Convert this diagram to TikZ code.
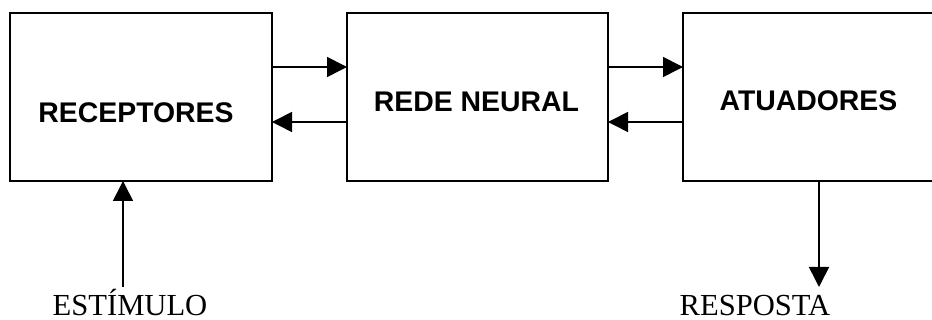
\documentclass[tikz,border=0pt]{standalone}
\usepackage{fontspec}
\setmainfont{Liberation Serif}
\setsansfont{Liberation Sans}
\usetikzlibrary{arrows.meta}
\usetikzlibrary{positioning}

\begin{document}
\begin{tikzpicture}[x=0.5pt, y=-0.5pt,
        caixa/.style={draw, line width=0.8pt, outer sep=0pt, inner sep=0pt, minimum height=84pt},
        rotulo/.style={anchor=base, font=\fontsize{14.2}{17}\selectfont\sffamily\bfseries},
        texto/.style={anchor=base, inner sep=0pt, text depth=0pt, font=\fontsize{15.3}{18}\selectfont},
        seta/.style={line width=0.8pt, -{Triangle[length=10pt, width=10pt]}}]
        \useasboundingbox (0, 0) rectangle (932, 320);

        \node[caixa, minimum width=131pt] (rec) at (141, 97) {};
        \node[caixa, minimum width=130.5pt] (rede) at (477.5, 97) {};
        \node[caixa, minimum width=133.5pt] (atu) at (816.5, 97) {};

        \node[rotulo] (recT) at (136, 123) {RECEPTORES};
        \node[rotulo] (redeT) at (476.5, 112) {REDE NEURAL};
        \node[rotulo] (atuT) at (808.5, 111) {ATUADORES};

        \node[texto] (est) at (130, 316) {ESTÍMULO};
        \node[texto] (resp) at (755, 316) {RESPOSTA};

        \coordinate (estIn) at (123, 287);
        \coordinate (respOut) at (819, 287);

        \draw[seta] (rec.east |- 0, 67) -- (rede.west |- 0, 67);
        \draw[seta] (rede.west |- 0, 122) -- (rec.east |- 0, 122);
        \draw[seta] (rede.east |- 0, 67) -- (atu.west |- 0, 67);
        \draw[seta] (atu.west |- 0, 122) -- (rede.east |- 0, 122);

        \draw[seta] (estIn) -- (estIn |- rec.south);
        \draw[seta] (respOut |- atu.south) -- (respOut);
    \end{tikzpicture}
\end{document}
